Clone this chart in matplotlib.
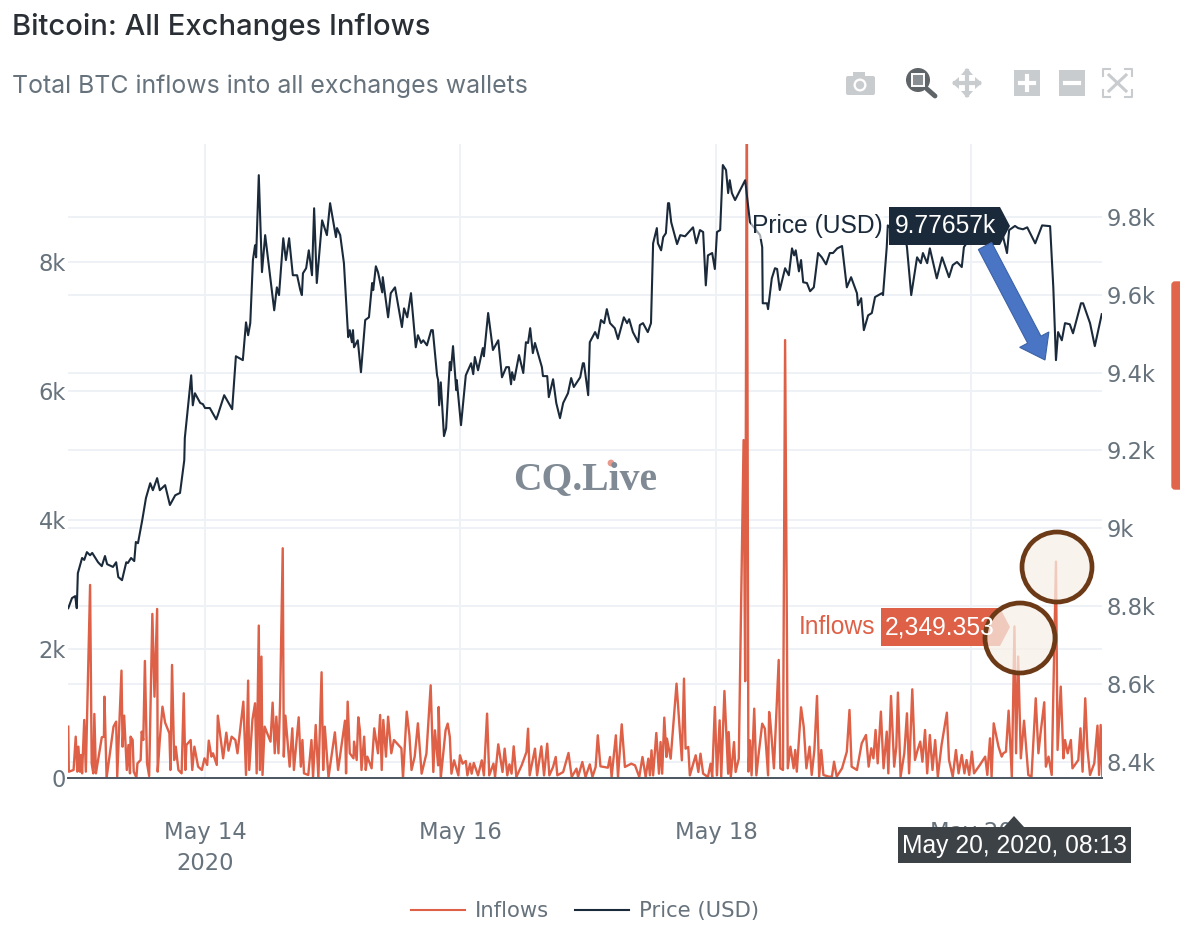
import matplotlib
matplotlib.use('Agg')
import matplotlib.pyplot as plt
import pandas as pd
from matplotlib.lines import Line2D
from matplotlib.patches import Circle, FancyArrow, Polygon, Rectangle, FancyBboxPatch

# hours counted from May 14 2020 00:00
price_hours = [-25.7,-25.0,-24.4,-24.1,-23.9,-23.1,-22.7,-22.2,-21.6,-21.2,-20.1,-19.4,-18.8,-18.4,-17.3,-16.7,-16.3,-15.6,-14.8,-14.5,
    -13.9,-13.3,-13.0,-12.6,-11.8,-11.1,-10.3,-9.8,-9.0,-8.5,-7.5,-6.6,-5.6,-4.7,-3.9,-3.8,-2.6,-2.3,-1.9,-0.9,
    -0.4,0,0.9,2.1,2.4,3.6,5.1,5.8,7.1,7.7,8.1,8.5,9.0,9.4,9.6,10.1,10.7,11.3,13.0,13.5,
    13.9,14.7,15.2,15.8,16.5,17.3,17.9,18.2,18.4,19.0,19.5,20.1,20.5,21.0,22.0,22.9,23.5,24.6,24.8,25.4,
    26.1,26.9,27.2,27.6,27.8,28.0,28.7,29.3,30.1,30.8,31.4,31.6,32.1,32.5,33.3,33.4,34.4,34.9,35.7,37.0,
    37.4,38.0,38.7,39.6,40.0,40.6,41.0,41.7,42.5,42.8,43.6,43.8,44.0,44.3,44.9,45.3,46.0,46.2,46.6,47.2,
    47.3,48.1,49.0,50.0,50.4,50.7,51.3,52.2,52.4,53.2,54.1,55.1,55.8,56.6,57.1,57.5,57.7,58.1,59.0,59.8,
    60.3,60.7,61.1,61.6,62.0,63.3,63.5,64.3,64.6,65.4,66.0,66.7,67.3,68.2,68.8,69.3,70.5,71.0,71.2,72.0,
    72.3,73.3,73.8,74.4,75.0,75.5,76.1,77.0,77.6,78.7,79.3,79.7,80.4,81.4,81.7,82.3,83.2,83.8,84.2,84.9,
    85.1,85.7,86.1,86.6,87.0,87.2,87.6,88.7,89.3,90.2,91.7,92.3,93.0,93.6,94.1,94.5,95.3,95.8,96.2,96.8,
    97.3,97.9,98.3,98.6,99.0,99.6,101.5,102.0,102.4,104.3,104.7,104.8,105.6,105.8,106.5,107.1,107.5,108.0,109.0,109.7,
    110.3,110.7,111.0,111.6,112.0,112.4,113.1,113.7,114.4,115.2,115.9,116.7,117.4,118.0,118.8,119.7,120.6,121.4,122.5,122.7,
    123.3,123.8,124.6,125.3,125.9,127.2,127.4,128.1,128.3,130.0,131.5,131.9,132.7,133.8,134.5,134.9,135.7,136.2,137.5,138.5,
    139.8,140.5,141.3,142.2,142.6,143.7,145.6,147.5,149.4,149.8,150.7,151.1,152.2,152.8,153.7,154.5,156.0,157.3,158.8,159.4,
    159.9,160.3,161.0,161.6,162.5,163.1,164.6,165.0,166.3,167.2,168.5]
price_usd = [8795,8821,8826,8795,8885,8924,8919,8939,8931,8937,8913,8903,8929,8908,8901,8913,8875,8867,8913,8911,
    8924,8916,8965,8962,9021,9078,9116,9098,9129,9098,9111,9060,9085,9091,9175,9232,9393,9316,9347,9322,
    9319,9309,9309,9280,9291,9342,9306,9442,9432,9529,9496,9527,9689,9727,9696,9907,9658,9753,9560,9619,
    9599,9745,9689,9745,9650,9650,9612,9599,9655,9668,9714,9650,9822,9630,9791,9753,9835,9748,9771,9753,
    9681,9491,9509,9478,9509,9465,9483,9401,9535,9542,9630,9612,9673,9658,9606,9645,9542,9604,9619,9517,
    9565,9542,9604,9465,9496,9476,9483,9470,9509,9509,9393,9381,9316,9375,9237,9257,9427,9406,9468,9355,
    9381,9265,9393,9424,9396,9440,9406,9463,9442,9553,9458,9483,9388,9414,9414,9370,9401,9381,9445,9399,
    9478,9476,9514,9450,9476,9414,9391,9391,9337,9383,9322,9283,9322,9347,9386,9363,9388,9424,9424,9342,
    9478,9504,9488,9535,9527,9563,9527,9514,9486,9542,9527,9537,9504,9478,9522,9527,9504,9527,9732,9771,
    9732,9714,9748,9758,9835,9835,9786,9730,9753,9750,9773,9732,9766,9761,9624,9701,9707,9666,9761,9766,
    9933,9920,9861,9894,9861,9843,9894,9835,9786,9753,9722,9578,9578,9563,9642,9668,9666,9612,9668,9650,
    9719,9701,9714,9660,9689,9632,9630,9609,9619,9707,9696,9678,9707,9707,9719,9725,9619,9645,9604,9573,
    9591,9509,9547,9553,9594,9604,9599,9722,9778,9753,9753,9722,9599,9696,9681,9707,9681,9719,9642,9696,
    9645,9676,9684,9671,9722,9745,9766,9753,9761,9758,9707,9766,9776.57,9771,9768,9773,9732,9778,9776,9619,
    9432,9504,9483,9527,9524,9501,9578,9578,9527,9468,9550]

inflow_hours = [-25.7,-25.6,-24.7,-24.3,-24.0,-23.8,-23.5,-23.3,-23.1,-22.7,-22.4,-21.6,-21.3,-21.0,-20.8,-20.5,-19.4,-19.0,-18.9,-18.5,
    -17.2,-16.7,-16.5,-15.7,-15.5,-15.2,-14.7,-14.4,-14.1,-14.0,-13.6,-13.4,-12.9,-12.7,-12.1,-11.9,-11.6,-11.3,-10.9,-10.5,
    -9.9,-9.5,-9.0,-8.9,-8.5,-8.0,-7.5,-6.7,-6.5,-6.2,-5.8,-5.5,-5.0,-4.4,-4.0,-3.7,-3.5,-2.7,-2.4,-2.0,
    -1.3,-0.6,-0.1,0.4,0.7,1.2,1.5,1.9,2.2,2.4,3.4,4.0,4.4,5.0,5.7,6.1,7.2,7.7,8.1,8.3,
    8.9,9.4,9.7,10.1,10.3,10.6,10.8,11.2,12.3,12.7,13.1,13.4,13.8,14.1,14.6,14.8,15.1,15.9,16.4,16.7,
    17.6,18.0,18.3,18.6,19.4,20.0,20.3,20.8,21.3,21.9,22.2,22.5,23.2,24.4,25.0,26.3,26.5,26.8,27.2,27.9,
    28.0,28.5,28.8,29.1,29.4,29.9,30.2,30.5,31.3,31.8,32.5,32.9,33.2,33.5,34.0,34.4,35.0,35.5,36.9,37.2,
    37.9,38.4,38.8,39.4,40.0,40.7,41.6,42.4,42.9,43.2,43.8,43.9,44.3,45.2,45.6,46.0,46.3,46.8,47.6,47.9,
    48.4,49.0,49.3,49.8,50.1,50.5,51.3,52.0,52.4,53.0,53.4,54.2,54.5,55.1,55.9,56.3,56.8,57.2,57.6,58.0,
    58.5,59.5,60.4,60.7,61.0,62.0,62.4,63.2,63.7,64.3,64.7,65.4,65.9,66.2,67.3,68.3,68.9,69.8,70.1,70.9,
    71.5,72.3,72.8,73.4,73.8,74.3,75.7,76.1,76.4,77.2,77.6,78.3,78.9,80.1,80.8,81.6,82.2,82.8,83.3,83.6,
    83.9,84.2,84.8,85.3,85.6,85.9,86.3,86.7,86.8,87.5,88.6,89.6,90.0,90.3,90.8,91.1,92.2,92.7,93.1,93.6,
    94.5,95.0,95.3,95.8,96.2,96.7,97.0,97.6,98.3,98.4,98.8,99.4,99.7,100.3,101.2,101.5,101.8,102.1,102.4,102.7,
    103.2,103.6,104.0,104.7,105.2,105.8,106.0,106.2,106.5,106.9,107.8,108.1,108.6,109.0,109.5,110.0,110.6,110.9,111.2,112.0,
    112.5,113.0,113.6,114.0,114.5,115.0,115.4,115.8,116.2,117.2,117.8,118.2,118.7,119.7,120.6,121.1,121.5,122.5,123.4,124.2,
    124.7,125.2,125.6,126.0,126.4,127.0,127.5,128.1,128.4,128.9,129.5,129.9,130.2,130.7,131.4,131.9,132.3,132.9,133.4,133.9,
    134.4,134.8,135.3,135.7,136.2,136.7,137.2,137.7,138.4,139.4,139.8,140.5,141.1,141.6,142.2,142.7,143.1,143.6,144.1,144.5,
    145.6,146.6,147.0,147.5,147.8,148.2,149.1,149.7,150.0,150.5,151.0,151.6,152.1,152.4,152.8,153.3,153.9,154.7,155.3,156.1,
    156.6,157.0,157.7,158.0,158.5,159.1,159.4,159.9,160.2,160.8,161.3,161.6,162.1,162.7,163.0,164.1,164.5,164.9,165.4,165.8,
    166.3,167.1,167.7,168.0,168.3,168.6]
inflow_btc = [796,98,124,641,98,486,98,357,72,900,98,2993,227,72,993,72,631,641,1261,0,
    796,874,21,1665,486,967,124,512,72,641,589,98,10,227,279,719,589,1815,227,31,
    2544,1261,2621,98,589,1106,858,693,124,1753,279,486,124,72,1313,124,512,589,124,486,
    176,124,305,202,579,331,383,279,202,967,305,703,424,641,589,383,1184,47,1510,124,
    900,1158,72,2363,124,1882,47,796,564,1168,383,951,383,1158,3562,331,967,176,770,124,
    941,176,589,72,47,589,10,822,0,1639,124,796,10,708,124,889,72,1184,383,305,
    564,279,941,744,124,641,124,331,150,770,383,977,124,900,331,951,383,589,460,0,
    1029,667,124,331,848,67,377,1437,93,739,196,1101,0,739,843,636,67,274,41,352,
    222,264,41,222,67,233,41,274,41,998,41,222,16,522,93,455,41,212,67,491,
    16,196,403,765,41,455,41,491,41,532,41,171,326,41,93,388,16,145,16,248,
    16,212,16,171,662,181,160,326,16,662,16,832,171,222,196,16,326,16,300,41,
    429,41,698,67,558,67,936,326,610,300,1463,274,1541,455,481,41,352,93,377,67,
    16,222,16,1101,41,894,16,1349,67,713,16,558,93,300,5239,1500,11000,100,584,41,
    1075,41,352,843,765,41,1024,900,589,150,1830,150,124,6789,150,486,150,434,98,1096,
    796,150,486,47,434,1272,21,434,47,21,21,253,21,150,408,1055,176,124,538,667,
    176,460,305,745,227,1029,150,719,72,1272,176,486,1324,21,383,1003,72,1375,279,434,
    564,253,745,72,667,124,589,21,512,1013,279,21,434,72,357,72,279,47,408,72,
    202,331,47,615,21,848,486,331,383,408,1044,21,2349.35,383,1882,305,889,47,21,1236,
    383,693,1174,176,331,47,1261,3355,434,1417,305,589,383,589,150,279,770,98,1236,460,
    47,227,812,47,822,21]

left_ticks = [0, 2000, 4000, 6000, 8000]
left_labels = ['0', '2k', '4k', '6k', '8k']
right_ticks = [8400, 8600, 8800, 9000, 9200, 9400, 9600, 9800]
right_labels = ['8.4k', '8.6k', '8.8k', '9k', '9.2k', '9.4k', '9.6k', '9.8k']
date_ticks = ['2020-05-14', '2020-05-16', '2020-05-18', '2020-05-20']
date_labels = ['May 14\n2020', 'May 16', 'May 18', 'May 20']

RED = '#dd6047'
NAVY = '#1b2a3a'
GRID = '#eef1f5'
GREY = '#66727c'
W, H = 1200, 941
PRICE_LIM = (8359, 9987)


def to_dates(hours):
    return pd.Timestamp('2020-05-14') + pd.to_timedelta(hours, unit='h')


fig = plt.figure(figsize=(W / 100, H / 100), dpi=100, facecolor='white')
ax = fig.add_axes([68 / W, 1 - 778 / H, 1034 / W, 634 / H])
ax2 = ax.twinx()
# grid of the price scale goes on its own axes so it stays behind both lines
ax_grid = ax.twinx()

ax.plot(to_dates(inflow_hours), inflow_btc, color=RED, lw=1.7, zorder=3, label='Inflows')
ax2.plot(to_dates(price_hours), price_usd, color=NAVY, lw=1.5, zorder=3, label='Price (USD)')

ax.set_xlim(to_dates([-25.75])[0], to_dates([168.55])[0])
ax.set_ylim(0, 9829)
ax2.set_ylim(*PRICE_LIM)
ax_grid.set_ylim(*PRICE_LIM)

ax.set_yticks(left_ticks, left_labels)
ax2.set_yticks(right_ticks, right_labels)
ax_grid.set_yticks(right_ticks, [''] * len(right_ticks))
ax.set_xticks(pd.to_datetime(date_ticks), date_labels, linespacing=1.45)
ax.tick_params(axis='both', length=0, labelsize=16.3, labelcolor=GREY)
ax.tick_params(axis='x', pad=31)
ax.tick_params(axis='y', pad=1.5)
ax2.tick_params(axis='y', length=0, labelsize=16.3, labelcolor=GREY, pad=3)
ax_grid.tick_params(axis='y', length=0)
ax.grid(color=GRID, lw=1.4)
ax_grid.grid(axis='y', color=GRID, lw=1.4)
ax.set_axisbelow(True)
ax_grid.set_zorder(0)
ax.set_zorder(1)
ax2.set_zorder(2)
ax.patch.set_visible(False)
ax2.patch.set_visible(False)
for a in (ax, ax2, ax_grid):
    for s in a.spines.values():
        s.set_visible(False)
ax.spines['bottom'].set_visible(True)
ax.spines['bottom'].set_color('#4a5560')
ax.spines['bottom'].set_linewidth(1.4)
ax.spines['bottom'].set_zorder(5)

handles = [Line2D([], [], color=RED, lw=1.5), Line2D([], [], color=NAVY, lw=1.5)]
fig.legend(handles, ['Inflows', 'Price (USD)'], ncols=2, frameon=False, loc='center',
           bbox_to_anchor=(585 / W, 1 - 911 / H), fontsize=15.2, labelcolor=GREY,
           handlelength=2.55, columnspacing=1.2, handletextpad=0.5)

# everything below sits on a pixel overlay: titles, hover labels, drawn-on marks
ov = fig.add_axes([0, 0, 1, 1], facecolor='none', zorder=10)
ov.set_xlim(0, W)
ov.set_ylim(H, 0)
ov.axis('off')

ov.text(12, 27, 'Bitcoin: All Exchanges Inflows', fontsize=21, fontweight='medium',
        family='Inter', color='#2a2f35', va='center')
ov.text(12, 86, 'Total BTC inflows into all exchanges wallets', fontsize=17.9,
        family='Inter', color=GREY, va='center')

ov.text(585, 480, 'CQ.Live', fontsize=28.5, family='Liberation Serif', fontweight='bold',
        color='#7f8a94', ha='center', va='center')
ov.add_patch(Circle((611, 463), 3.4, color='#e89a8c', lw=0))

# hover labels
ov.text(752, 226, 'Price (USD)', fontsize=17.7, family='Liberation Sans', color=NAVY, va='center',
        bbox=dict(facecolor='white', edgecolor='none', alpha=0.6, pad=1))
ov.add_patch(Polygon([(889, 207), (1000, 207), (1010, 226), (1000, 245), (889, 245)], color=NAVY, lw=0))
ov.text(945, 226, '9.77657k', fontsize=17.7, family='Liberation Sans', color='white', ha='center', va='center')

ov.text(875, 627, 'Inflows', fontsize=17.7, family='Liberation Sans', color=RED, ha='right', va='center')
ov.add_patch(Polygon([(881, 608), (1000, 608), (1010, 627), (1000, 646), (881, 646)], color=RED, lw=0))
ov.text(885, 627, '2,349.353', fontsize=17.7, family='Liberation Sans', color='white', va='center')

ov.add_patch(Polygon([(1014, 816), (1024, 827), (1131, 827), (1131, 863), (898, 863), (898, 827), (1004, 827)],
                     color='#3d4247', lw=0))
ov.text(1014.5, 846, 'May 20, 2020, 08:13', fontsize=17.7, family='Liberation Sans', color='white',
        ha='center', va='center')

# circles and arrow added on top of the screenshot
for cx, cy in [(1057, 567), (1020, 638)]:
    ov.add_patch(Circle((cx, cy), 35, facecolor='#f8efe7', edgecolor='none', alpha=0.75))
    ov.add_patch(Circle((cx, cy), 35, facecolor='none', edgecolor='#6c3a17', lw=3.4))
ov.add_patch(FancyArrow(985, 246, 60, 114, width=15, head_width=33, head_length=23,
                        length_includes_head=True, facecolor='#4a74c4', edgecolor='#3b62a8', lw=0.8))

# range slider handle on the right edge
ov.add_patch(FancyBboxPatch((1172, 282), 20, 207, boxstyle='round,pad=0,rounding_size=3',
                            facecolor='#e0654a', edgecolor='#e0654a', lw=1))
ov.add_patch(Rectangle((1180, 275), 22, 220, facecolor='white', edgecolor='none'))

# modebar icons
ICON = '#c9cccf'
ov.add_patch(FancyBboxPatch((846, 76), 29, 19, boxstyle='round,pad=0,rounding_size=2', color=ICON, lw=0))
ov.add_patch(Rectangle((853, 72), 12, 6, color=ICON, lw=0))
ov.add_patch(Circle((860, 85), 6.5, color='white', lw=0))
ov.add_patch(Circle((860, 85), 4.2, color=ICON, lw=0))
ov.add_patch(Circle((918, 80), 12, facecolor='#5e6468', edgecolor='none'))
ov.add_patch(Rectangle((912, 74), 12, 12, facecolor='#8a8f93', edgecolor='white', lw=1.4))
ov.plot([927, 935], [89, 96], color='#5e6468', lw=3.5, solid_capstyle='round')
ov.plot([955, 979], [83, 83], color=ICON, lw=3)
ov.plot([967, 967], [71, 95], color=ICON, lw=3)
for tip in [[(952, 83), (959, 77), (959, 89)], [(982, 83), (975, 77), (975, 89)],
            [(967, 68), (961, 75), (973, 75)], [(967, 98), (961, 91), (973, 91)]]:
    ov.add_patch(Polygon(tip, color=ICON, lw=0))
ov.add_patch(Rectangle((1014, 70), 26, 26, color=ICON, lw=0))
ov.plot([1020, 1034], [83, 83], color='white', lw=3)
ov.plot([1027, 1027], [76, 90], color='white', lw=3)
ov.add_patch(Rectangle((1059, 70), 26, 26, color=ICON, lw=0))
ov.plot([1065, 1079], [83, 83], color='white', lw=3)
for xs, ys in [([1103, 1103, 1110], [76, 69, 69]), ([1125, 1132, 1132], [69, 69, 76]),
               ([1103, 1103, 1110], [90, 97, 97]), ([1125, 1132, 1132], [97, 97, 90])]:
    ov.plot(xs, ys, color=ICON, lw=1.5)
ov.plot([1109, 1126], [75, 91], color=ICON, lw=2.2)
ov.plot([1126, 1109], [75, 91], color=ICON, lw=2.2)

fig.savefig('out.png', dpi=100)
